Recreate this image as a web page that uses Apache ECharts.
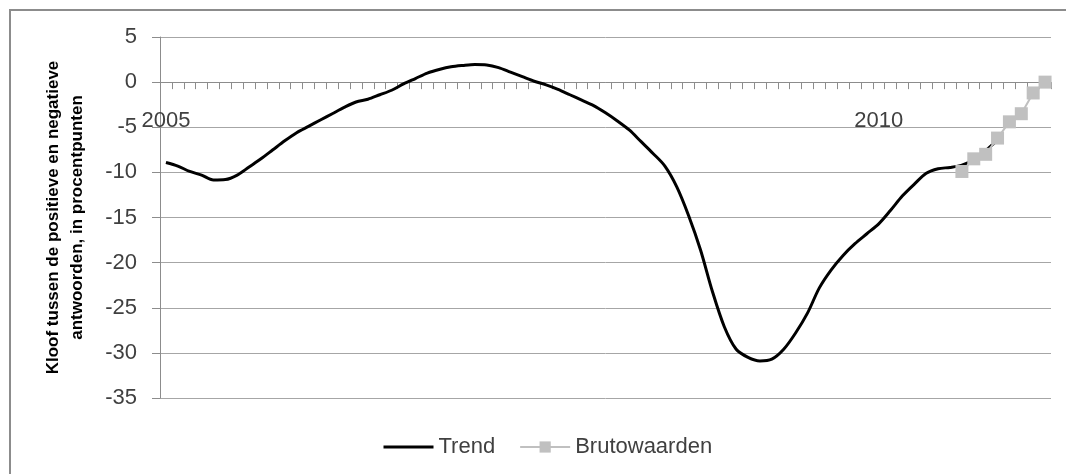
<!DOCTYPE html>
<html>
<head>
<meta charset="utf-8">
<script src="https://cdn.jsdelivr.net/npm/echarts@6/dist/echarts.min.js"></script>
<style>
  html, body { margin: 0; padding: 0; background: #ffffff; }
</style>
</head>
<body>
<div id="main" style="width: 1066px; height: 474px"></div>
<script>
// maanden jan 2005 - mrt 2011
var months = [
  "2005-01", "2005-02", "2005-03", "2005-04", "2005-05", "2005-06", "2005-07", "2005-08", "2005-09", "2005-10", "2005-11", "2005-12",
  "2006-01", "2006-02", "2006-03", "2006-04", "2006-05", "2006-06", "2006-07", "2006-08", "2006-09", "2006-10", "2006-11", "2006-12",
  "2007-01", "2007-02", "2007-03", "2007-04", "2007-05", "2007-06", "2007-07", "2007-08", "2007-09", "2007-10", "2007-11", "2007-12",
  "2008-01", "2008-02", "2008-03", "2008-04", "2008-05", "2008-06", "2008-07", "2008-08", "2008-09", "2008-10", "2008-11", "2008-12",
  "2009-01", "2009-02", "2009-03", "2009-04", "2009-05", "2009-06", "2009-07", "2009-08", "2009-09", "2009-10", "2009-11", "2009-12",
  "2010-01", "2010-02", "2010-03", "2010-04", "2010-05", "2010-06", "2010-07", "2010-08", "2010-09", "2010-10", "2010-11", "2010-12",
  "2011-01", "2011-02", "2011-03"
];

// alleen deze jaren staan als label op de as
var yearLabels = ["2005", "2010"];

var trend = [
  -8.9, -9.3, -9.9, -10.3, -10.85, -10.8, -10.3, -9.4, -8.5, -7.5, -6.5, -5.6,
  -4.9, -4.2, -3.5, -2.8, -2.2, -1.9, -1.4, -0.9, -0.2, 0.4, 1.0, 1.4,
  1.7, 1.85, 1.95, 1.9, 1.6, 1.1, 0.6, 0.1, -0.3, -0.8, -1.4, -2.0,
  -2.6, -3.4, -4.3, -5.3, -6.6, -7.9, -9.3, -11.6, -14.8, -18.6, -23.2, -27.1,
  -29.6, -30.5, -30.9, -30.7, -29.6, -27.8, -25.6, -22.8, -20.8, -19.2, -17.9, -16.8,
  -15.7, -14.2, -12.6, -11.3, -10.1, -9.6, -9.45, -9.2, -8.6, -7.6, -6.4, null,
  null, null, null
];

var bruto = [
  null, null, null, null, null, null, null, null, null, null, null, null,
  null, null, null, null, null, null, null, null, null, null, null, null,
  null, null, null, null, null, null, null, null, null, null, null, null,
  null, null, null, null, null, null, null, null, null, null, null, null,
  null, null, null, null, null, null, null, null, null, null, null, null,
  null, null, null, null, null, null, null, -9.9, -8.5, -8.0, -6.2, -4.4,
  -3.5, -1.2, 0.0
];

var yTitle = "Kloof tussen de positieve en negatieve\nantwoorden, in procentpunten";

var myChart = echarts.init(document.getElementById("main"));
var labelFont = "'Liberation Sans', Arial, sans-serif";

var option = {
  animation: false,
  graphic: [{
    type: "rect",
    shape: { x: 10, y: 10, width: 1100, height: 500 },
    style: { fill: "none", stroke: "#8c8c8c", lineWidth: 2 },
    silent: true,
  }],
  grid: {
    left: 160,
    right: 15,
    top: 37,
    bottom: 76,
  },
  legend: {
    left: 377,
    top: 431,
    itemWidth: 50,
    itemHeight: 14,
    itemGap: 24,
    textStyle: { fontFamily: labelFont, fontSize: 22, color: "#404040" },
    data: [
      { name: "Trend", itemStyle: { opacity: 0 }, lineStyle: { width: 3 } },
      { name: "Brutowaarden" },
    ],
  },
  xAxis: [
    {
      // as op nul met streepjes per maand
      type: "category",
      boundaryGap: true,
      data: months,
      axisLine: { onZero: true, lineStyle: { color: "#8c8c8c", width: 1 } },
      axisTick: { show: true, interval: 0, length: 7, lineStyle: { color: "#8c8c8c" } },
      axisLabel: { show: false },
      splitLine: { show: false },
    },
    {
      // alleen de jaartallen, net onder de nul-as
      type: "category",
      position: "top",
      boundaryGap: true,
      data: months,
      axisLine: { show: false },
      axisTick: { show: false },
      axisLabel: {
        inside: true,
        interval: 59,
        margin: 73,
        fontFamily: labelFont,
        fontSize: 22,
        color: "#404040",
        formatter: function (v) {
          var y = v.slice(0, 4);
          return yearLabels.indexOf(y) >= 0 ? y : "";
        },
      },
      splitLine: { show: false },
    },
  ],
  yAxis: {
    type: "value",
    min: -35,
    max: 5,
    interval: 5,
    name: yTitle,
    nameLocation: "middle",
    nameGap: 71,
    nameTextStyle: {
      fontFamily: labelFont,
      fontSize: 17,
      fontWeight: "bold",
      color: "#000000",
      lineHeight: 24,
      align: "center",
    },
    axisLine: { show: true, lineStyle: { color: "#8c8c8c", width: 1 } },
    axisTick: { show: true, length: 8, lineStyle: { color: "#8c8c8c" } },
    axisLabel: {
      margin: 23,
      fontFamily: labelFont,
      fontSize: 22,
      color: "#404040",
    },
    splitLine: { lineStyle: { color: "#a6a6a6", width: 1 } },
  },
  series: [
    {
      name: "Trend",
      type: "line",
      data: trend,
      symbol: "none",
      smooth: 0.3,
      lineStyle: { color: "#000000", width: 3 },
      itemStyle: { color: "#000000" },
    },
    {
      name: "Brutowaarden",
      type: "line",
      data: bruto,
      symbol: "rect",
      symbolSize: 13,
      showAllSymbol: true,
      lineStyle: { color: "#c0c0c0", width: 2 },
      itemStyle: { color: "#c0c0c0" },
    },
  ],
};

option && myChart.setOption(option);
</script>
</body>
</html>
